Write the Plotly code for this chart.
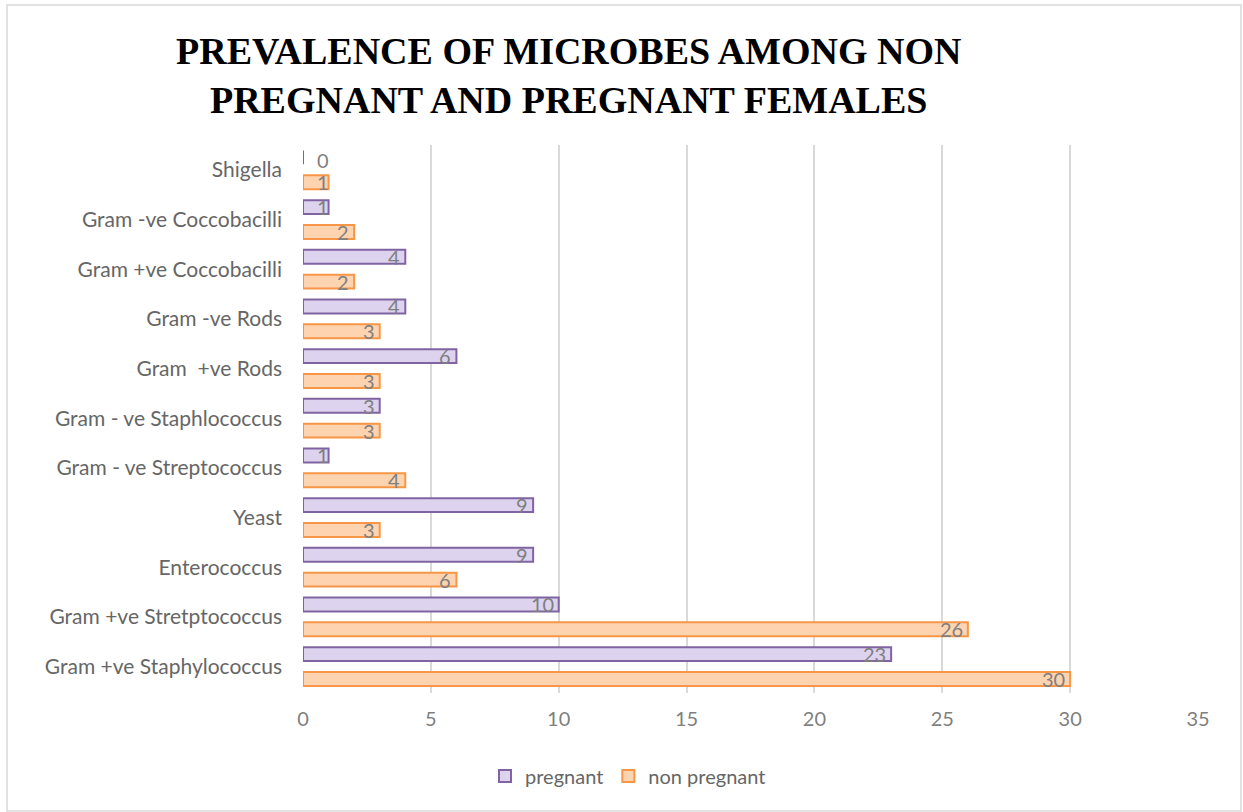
import plotly.graph_objects as go

categories = ["Gram +ve Staphylococcus", "Gram +ve Stretptococcus", "Enterococcus", "Yeast",
              "Gram - ve Streptococcus", "Gram - ve Staphlococcus", "Gram  +ve Rods", "Gram -ve Rods",
              "Gram +ve Coccobacilli", "Gram -ve Coccobacilli", "Shigella"]
pregnant = [23, 10, 9, 9, 1, 3, 6, 4, 4, 1, 0]
non_pregnant = [30, 26, 6, 3, 4, 3, 3, 3, 2, 2, 1]
x_ticks = [0, 5, 10, 15, 20, 25, 30, 35]

W, H = 1243, 812
ML, MR, MT, MB = 303, 45, 145, 119
PW, PH = W - ML - MR, H - MT - MB

fig = go.Figure()
fig.add_trace(go.Bar(y=categories, x=non_pregnant, name="non pregnant", orientation="h",
                     marker=dict(color="#FDD3B0", line=dict(color="#F79646", width=2))))
fig.add_trace(go.Bar(y=categories, x=pregnant, name="pregnant", orientation="h",
                     marker=dict(color="#DDD3EF", line=dict(color="#8064A2", width=2))))

lab_font = dict(family="Lato", size=20, color="#7F7F7F")
ann = []
for series, off in ((non_pregnant, -0.25), (pregnant, 0.25)):
    for i, v in enumerate(series):
        ypos = i + off
        if v == 0:
            ann.append(dict(x=0, y=ypos - 0.05, xref="x", yref="y", text=str(v), showarrow=False,
                            xanchor="left", xshift=12, font=lab_font))
        else:
            ann.append(dict(x=v, y=ypos, xref="x", yref="y", text=str(v), showarrow=False,
                            xanchor="right", xshift=-3 if v > 1 else 2, font=lab_font))

ann.append(dict(text="<b>PREVALENCE OF MICROBES AMONG NON<br>PREGNANT AND PREGNANT FEMALES</b>",
                xref="paper", yref="paper", x=(568 - ML) / PW, xanchor="center",
                y=1 + (MT - 76) / PH, yanchor="middle", showarrow=False,
                font=dict(family="Liberation Serif", size=38, color="black")))

fig.update_layout(
    width=W, height=H,
    margin=dict(l=ML, r=MR, t=MT, b=MB),
    paper_bgcolor="white", plot_bgcolor="white",
    barmode="group", bargap=0.0, bargroupgap=0.44,
    xaxis=dict(range=[0, 35], tickvals=x_ticks, showgrid=True, gridcolor="#D9D9D9", gridwidth=1.5,
               zeroline=False, showline=False, tickfont=dict(family="Lato", size=20, color="#7F7F7F"),
               ticks="", ticklabelstandoff=12),
    yaxis=dict(categoryorder="array", categoryarray=categories, showgrid=False, zeroline=False,
               tickfont=dict(family="Lato", size=21, color="#666666"), ticks="", ticklabelstandoff=20),
    legend=dict(orientation="h", traceorder="reversed", xref="container", yref="container",
                x=628 / W, xanchor="center", y=1 - 776 / H, yanchor="middle",
                font=dict(family="Lato", size=20, color="#666666")),
    annotations=ann,
    shapes=[dict(type="rect", xref="paper", yref="paper",
                 x0=(7 - ML) / PW, x1=(1241 - ML) / PW, y0=-(811 - (MT + PH)) / PH, y1=1 + (MT - 5) / PH,
                 line=dict(color="#D9D9D9", width=1.5), layer="below")],
    showlegend=True,
)
fig.write_html("out.html")
